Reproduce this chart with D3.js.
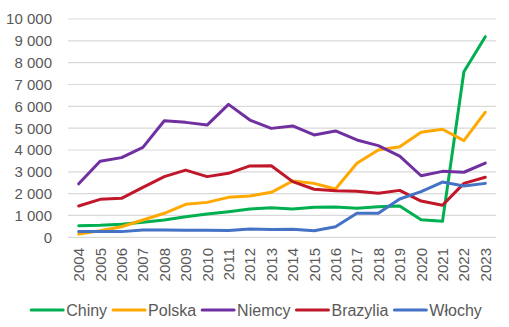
<!DOCTYPE html>
<html><head><meta charset="utf-8">
<script src="https://cdn.jsdelivr.net/npm/d3@7"></script>
<style>body{margin:0;background:#fff}svg{display:block}</style>
</head><body>
<svg id="c" width="509" height="327"></svg>
<script>
const years = ["2004","2005","2006","2007","2008","2009","2010","2011","2012","2013","2014","2015","2016","2017","2018","2019","2020","2021","2022","2023"];
const chiny    = [530,550,595,685,790,945,1070,1175,1300,1355,1300,1375,1390,1330,1400,1435,805,730,7585,9190];
const polska   = [150,300,485,790,1100,1510,1600,1830,1890,2060,2580,2470,2210,3390,4000,4150,4810,4950,4430,5730];
const niemcy   = [2450,3480,3650,4120,5340,5265,5140,6090,5370,4990,5100,4690,4870,4460,4200,3720,2820,3020,2980,3400];
const brazylia = [1435,1740,1785,2290,2780,3080,2780,2930,3270,3280,2550,2200,2135,2105,2015,2150,1660,1465,2470,2750];
const wlochy   = [260,260,260,335,335,320,320,310,380,360,365,300,485,1100,1100,1755,2090,2530,2350,2470];
const seriesNames = ["Chiny","Polska","Niemcy","Brazylia","Włochy"];
const seriesValues = [chiny, polska, niemcy, brazylia, wlochy];
const colors = ["#00B050","#FFA800","#7030A0","#C0182A","#4472C4"];
const yTicks = [0,1000,2000,3000,4000,5000,6000,7000,8000,9000,10000];

(function () {
const svg = d3.select("#c");
const font = "'Liberation Sans', Arial, sans-serif";
const textColor = "#595959";
const mLeft = 68, mRight = 496, mTop = 19, mBottom = 237.3;

const x = d3.scaleBand().domain(years).range([mLeft, mRight]);
const y = d3.scaleLinear().domain([0, 10000]).range([mBottom, mTop]);
const fmt = v => d3.format(",")(v).replace(/,/g, " ");

svg.append("g").selectAll("line").data(yTicks).join("line")
  .attr("x1", mLeft).attr("x2", mRight)
  .attr("y1", d => y(d)).attr("y2", d => y(d))
  .attr("stroke", "#d9d9d9").attr("stroke-width", 1.2);

svg.append("g").selectAll("text").data(yTicks).join("text")
  .attr("x", 52).attr("y", d => y(d)).attr("dy", "0.36em")
  .attr("text-anchor", "end")
  .attr("font-family", font).attr("font-size", 15).attr("fill", textColor)
  .text(fmt);

svg.append("g").selectAll("text").data(years).join("text")
  .attr("transform", d => `translate(${x(d) + x.bandwidth()/2},248) rotate(-90)`)
  .attr("dy", "0.36em").attr("text-anchor", "end")
  .attr("font-family", font).attr("font-size", 15).attr("fill", textColor)
  .text(d => d);

const line = d3.line().x((d, i) => x(years[i]) + x.bandwidth()/2).y(d => y(d));
svg.append("g").selectAll("path").data(seriesValues).join("path")
  .attr("d", d => line(d))
  .attr("fill", "none")
  .attr("stroke", (d, i) => colors[i])
  .attr("stroke-width", 3)
  .attr("stroke-linejoin", "round").attr("stroke-linecap", "round");

const lg = svg.append("g");
let cx = 0;
seriesNames.forEach((n, i) => {
  const g = lg.append("g").attr("transform", `translate(${cx},0)`);
  g.append("line").attr("x1", 0).attr("x2", 32).attr("y1", 0).attr("y2", 0)
    .attr("stroke", colors[i]).attr("stroke-width", 3).attr("stroke-linecap", "round");
  const t = g.append("text").attr("x", 35).attr("y", 0).attr("dy", "0.36em")
    .attr("font-family", font).attr("font-size", 16).attr("fill", textColor).text(n);
  cx += 35 + t.node().getComputedTextLength() + 6;
});
const totalW = cx - 6;
lg.attr("transform", `translate(${(26 + 487) / 2 - totalW / 2},310)`);
})();
</script>
</body></html>
